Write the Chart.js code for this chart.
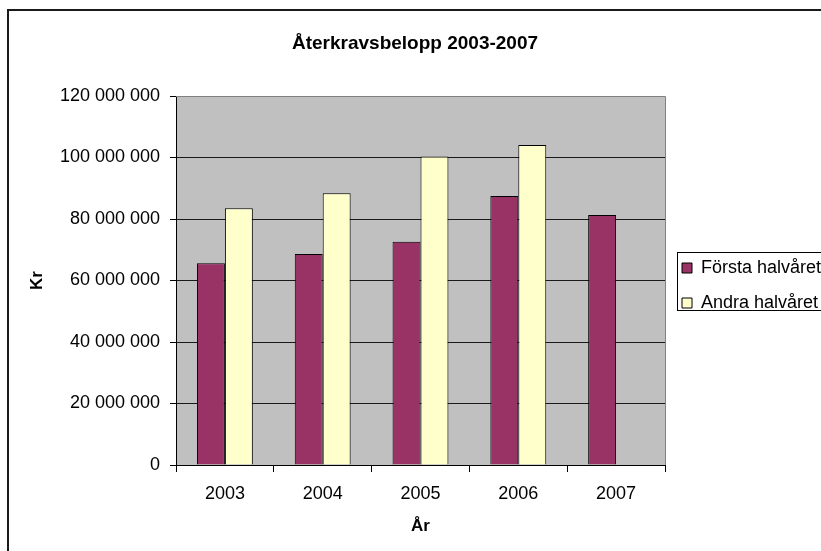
<!DOCTYPE html>
<html lang="sv">
<head>
<meta charset="utf-8">
<title>Återkravsbelopp 2003-2007</title>
<script src="https://cdn.jsdelivr.net/npm/chart.js@4/dist/chart.umd.min.js"></script>
<style>
    html, body { margin: 0; padding: 0; background: #fff; overflow: hidden; }
    #wrap { position: absolute; left: 0; top: 0; width: 830px; height: 551px; }
</style>
</head>
<body>
<div id="wrap"><canvas id="kravChart" width="830" height="551"></canvas></div>
<script>
// Data
const years = ['2003', '2004', '2005', '2006', '2007'];
const firstHalf = [65600000, 68600000, 72600000, 87500000, 81300000];
const secondHalf = [83500000, 88400000, 100300000, 104100000, null];
const yTicks = [0, 20000000, 40000000, 60000000, 80000000, 100000000, 120000000];

function formatKr(v) {
    return String(v).replace(/\B(?=(\d{3})+(?!\d))/g, ' ');
}

// Grå bakgrund, ram runt diagrammet och ram runt förklaringen
const frame = {
    id: 'frame',
    beforeDraw(chart) {
        const { ctx, chartArea: a } = chart;
        ctx.save();
        ctx.fillStyle = '#c0c0c0';
        ctx.fillRect(a.left, a.top, a.right - a.left, a.bottom - a.top);
        ctx.restore();
    },
    beforeDatasetsDraw(chart) {
        const { ctx, chartArea: a } = chart;
        ctx.save();
        ctx.strokeStyle = '#808080';
        ctx.lineWidth = 1;
        ctx.beginPath();
        ctx.moveTo(a.left, Math.round(a.top) + 0.5);
        ctx.lineTo(Math.round(a.right) + 0.5, Math.round(a.top) + 0.5);
        ctx.lineTo(Math.round(a.right) + 0.5, a.bottom);
        ctx.stroke();
        ctx.restore();
    },
    afterDraw(chart) {
        const ctx = chart.ctx;
        ctx.save();
        ctx.strokeStyle = '#1a1a1a';
        ctx.lineWidth = 2;
        ctx.strokeRect(8, 10, 900, 900);
        const lg = chart.legend;
        if (lg && lg.legendHitBoxes.length) {
            const hb = lg.legendHitBoxes;
            const top = hb[0].top - 7;
            const bottom = hb[hb.length - 1].top + 16;
            ctx.strokeStyle = '#000';
            ctx.lineWidth = 1;
            ctx.strokeRect(677.5, Math.round(top) + 0.5, 200, Math.round(bottom - top));
        }
        ctx.restore();
    }
};

document.addEventListener('DOMContentLoaded', () => {
    Chart.defaults.font.family = "'Liberation Sans', Arial, sans-serif";
    Chart.defaults.color = '#000';

    const ctx = document.getElementById('kravChart').getContext('2d');
    const kravChart = new Chart(ctx, {
        type: 'bar',
        data: {
            labels: years,
            datasets: [{
                label: 'Första halvåret',
                data: firstHalf,
                backgroundColor: '#993366',
                borderColor: '#000',
                borderWidth: 1
            }, {
                label: 'Andra halvåret',
                data: secondHalf,
                backgroundColor: '#ffffcc',
                borderColor: '#000',
                borderWidth: 1
            }]
        },
        options: {
            responsive: false,
            animation: false,
            layout: { padding: { left: 0, right: 0, top: 0, bottom: 14 } },
            datasets: {
                bar: { barPercentage: 1, categoryPercentage: 2 / 3.5 }
            },
            plugins: {
                tooltip: { enabled: false },
                title: {
                    display: true,
                    text: 'Återkravsbelopp 2003-2007',
                    color: '#000',
                    font: { size: 19, weight: 'bold' },
                    padding: { top: 32, bottom: 41.2 }
                },
                legend: {
                    position: 'right',
                    fullSize: false,
                    maxWidth: 165,
                    // tom rubrik, bara för att flytta ner posterna lite
                    title: { display: true, text: '', font: { size: 5 }, padding: { top: 2, bottom: 2 } },
                    labels: {
                        boxWidth: 10,
                        boxHeight: 10,
                        padding: 17,
                        color: '#000',
                        font: { size: 18 }
                    }
                }
            },
            scales: {
                x: {
                    afterFit: (s) => { s.height = 72; },
                    grid: { drawOnChartArea: false, color: '#000', tickLength: 7 },
                    border: { color: '#000', width: 1 },
                    ticks: { padding: 11, font: { size: 18 }, color: '#000' },
                    title: {
                        display: true,
                        text: 'År',
                        font: { size: 17, weight: 'bold' },
                        padding: { top: 0, bottom: 0 }
                    }
                },
                y: {
                    min: 0,
                    max: 120000000,
                    afterFit: (s) => { s.width = 176; },
                    afterBuildTicks: (s) => { s.ticks = yTicks.map(v => ({ value: v })); },
                    grid: {
                        color: (c) => (c.tick && c.tick.value === 120000000 ? '#808080' : '#1a1a1a'),
                        tickColor: '#000',
                        tickLength: 6
                    },
                    border: { color: '#000', width: 1 },
                    ticks: {
                        padding: 10,
                        font: { size: 18 },
                        color: '#000',
                        callback: (v) => formatKr(v)
                    },
                    title: {
                        display: true,
                        text: 'Kr',
                        font: { size: 17, weight: 'bold' },
                        padding: { top: 27, bottom: 0 }
                    }
                }
            }
        },
        plugins: [frame]
    });
});
</script>
</body>
</html>
